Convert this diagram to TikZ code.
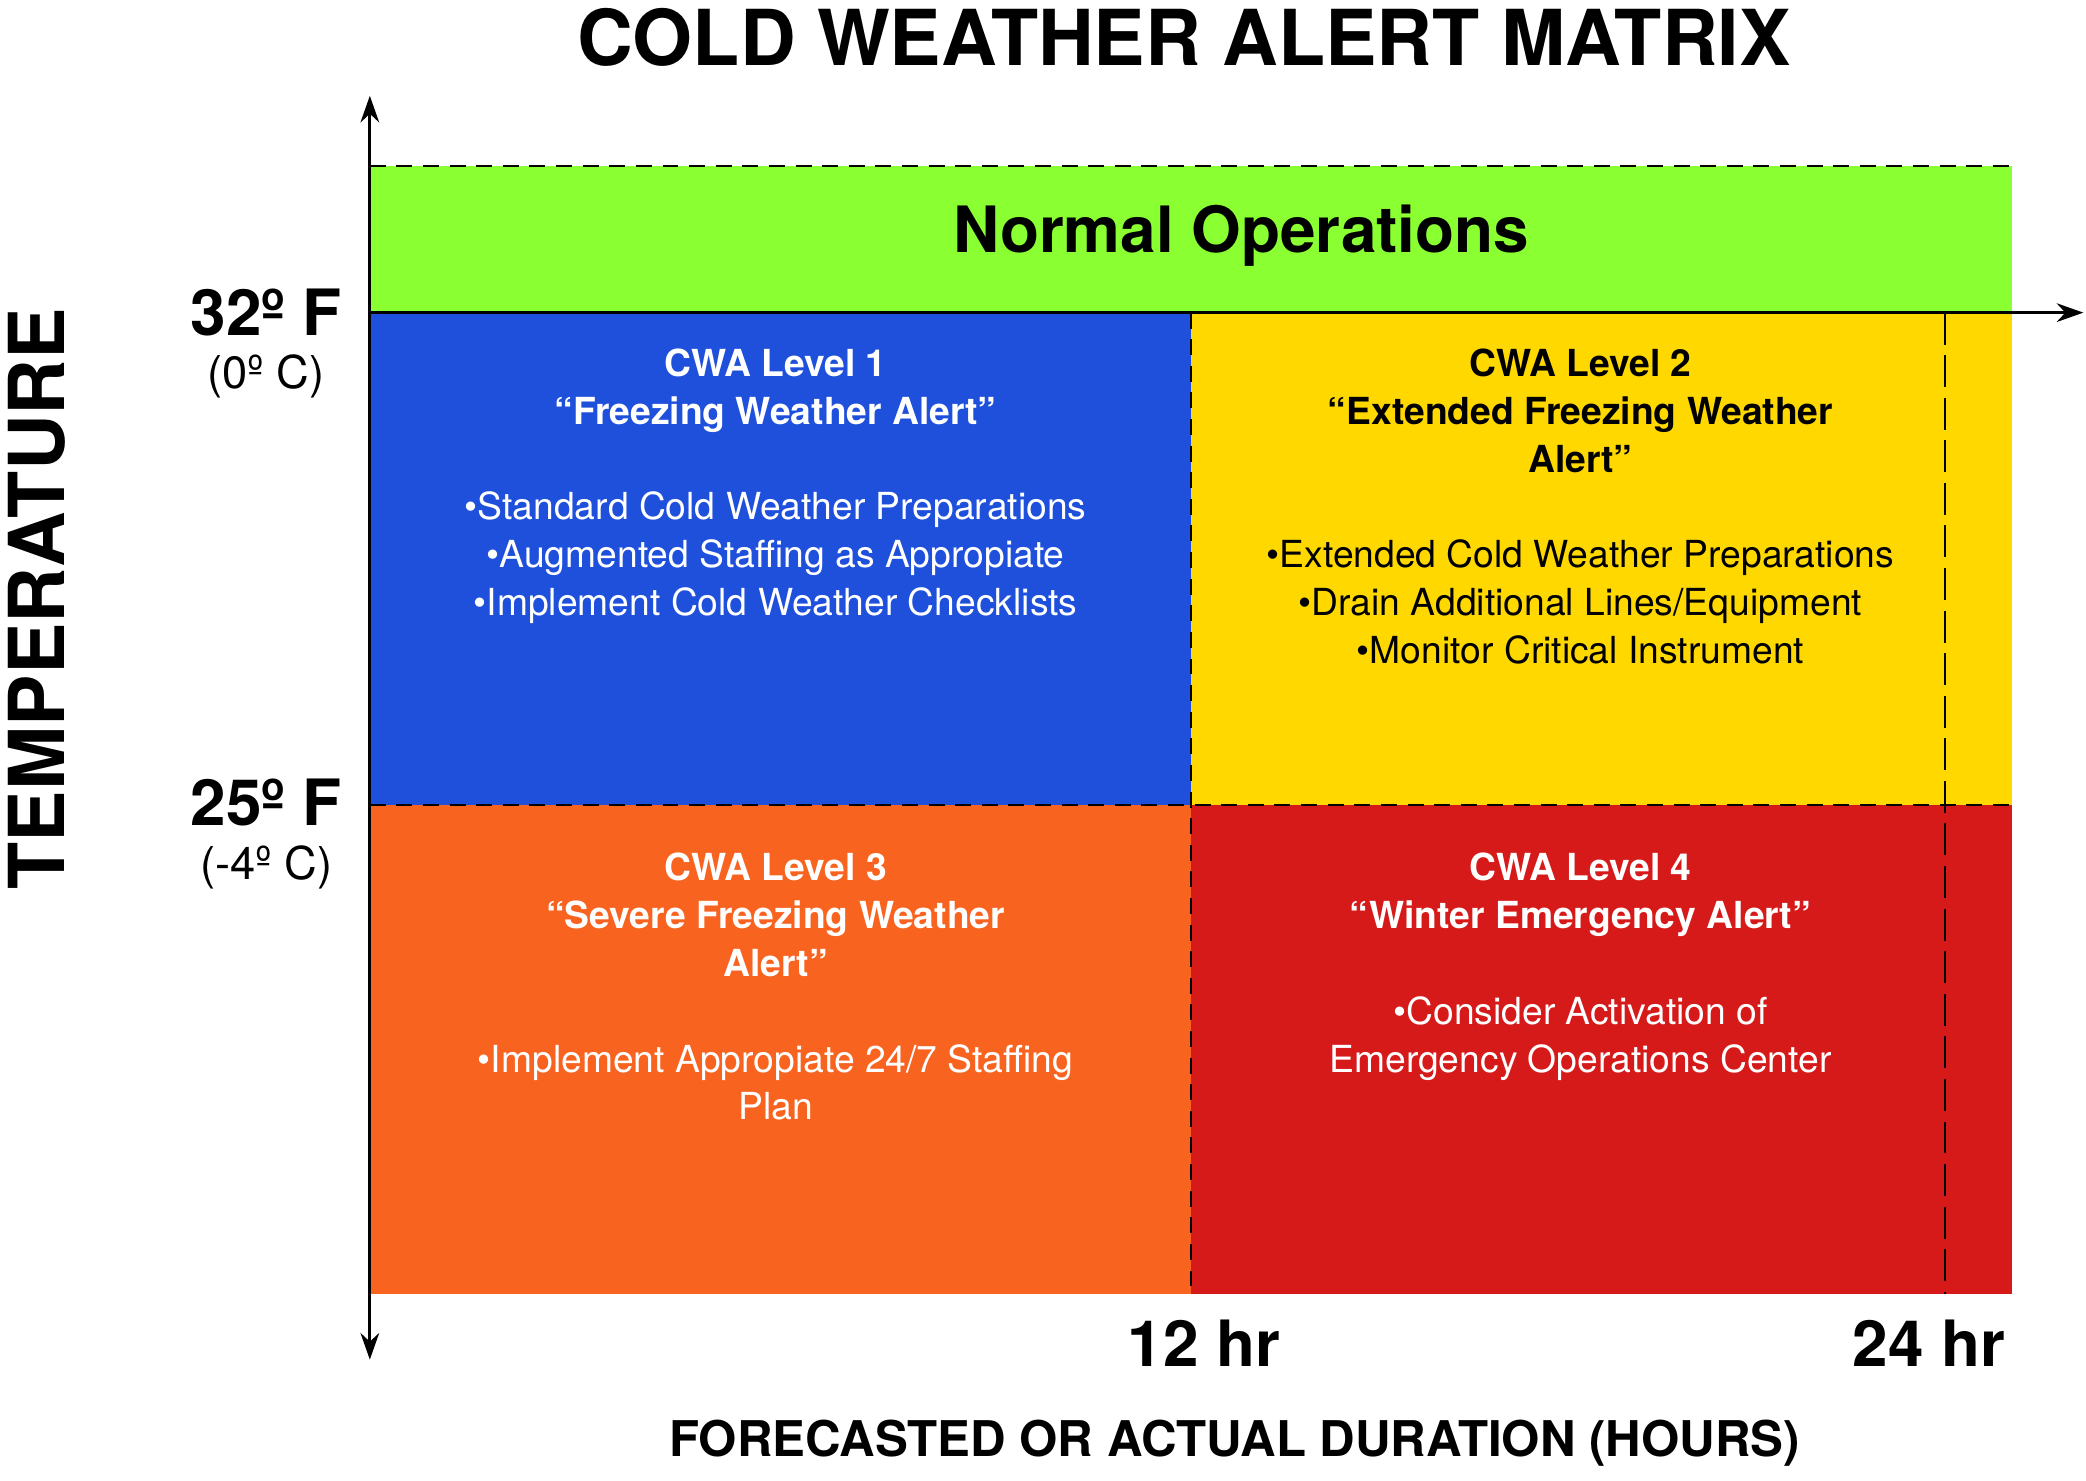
\documentclass[tikz,border=0pt]{standalone}
\usepackage{fontspec}
\setmainfont{TeX Gyre Heros}
\usetikzlibrary{arrows.meta}
\definecolor{cgreen}{RGB}{138,255,50}
\definecolor{cblue}{RGB}{30,80,220}
\definecolor{cyellow}{RGB}{255,216,0}
\definecolor{corange}{RGB}{248,100,32}
\definecolor{cred}{RGB}{214,26,26}
\begin{document}
\begin{tikzpicture}[x=0.5pt,y=-0.5pt,
  cell/.style={align=center,font=\fontsize{14}{18}\selectfont,anchor=north},
  lbl/.style={font=\fontsize{24}{28}\selectfont\bfseries},
  sub/.style={font=\fontsize{17}{20}\selectfont},
  dsh/.style={dashed,line width=0.8pt,dash pattern=on 6pt off 4pt}]
\useasboundingbox (0,0) rectangle (1568,1113);
\fill[cgreen] (278,125) rectangle (1512,235);
\fill[cblue] (278,235) rectangle (895,605);
\fill[cyellow] (895,235) rectangle (1512,605);
\fill[corange] (278,605) rectangle (895,973);
\fill[cred] (895,605) rectangle (1512,973);
\draw[dsh] (278,125) -- (1512,125);
\draw[dsh] (278,605) -- (1512,605);
\draw[dsh] (895,235) -- (895,973);
\draw[line width=0.8pt,dash pattern=on 12pt off 4pt] (1462,235) -- (1462,973);
\coordinate (top) at (278,72);
\coordinate (bot) at (278,1022);
\coordinate (right) at (1566,235);
\draw[line width=1.2pt,-{Stealth[length=10pt,width=7pt]}] (278,235) -- (top);
\draw[line width=1.2pt,-{Stealth[length=10pt,width=7pt]}] (278,235) -- (bot);
\draw[line width=1.2pt,-{Stealth[length=10pt,width=7pt]}] (278,235) -- (right);
\node (title) at (890,28) {\fontsize{29}{32}\selectfont\bfseries COLD WEATHER ALERT MATRIX};
\node (normal) at (933,177) {\fontsize{24}{28}\selectfont\bfseries Normal Operations};
\node[cell,text=white] (l1) at (583,255) {\textbf{CWA Level 1}\\\textbf{“Freezing Weather Alert”}\\[18pt]•Standard Cold Weather Preparations\\•Augmented Staffing as Appropiate\\•Implement Cold Weather Checklists};
\node[cell] (l2) at (1188,255) {\textbf{CWA Level 2}\\\textbf{“Extended Freezing Weather}\\\textbf{Alert”}\\[18pt]•Extended Cold Weather Preparations\\•Drain Additional Lines/Equipment\\•Monitor Critical Instrument};
\node[cell,text=white] (l3) at (583,634) {\textbf{CWA Level 3}\\\textbf{“Severe Freezing Weather}\\\textbf{Alert”}\\[18pt]•Implement Appropiate 24/7 Staffing\\Plan};
\node[cell,text=white] (l4) at (1188,634) {\textbf{CWA Level 4}\\\textbf{“Winter Emergency Alert”}\\[18pt]•Consider Activation of\\Emergency Operations Center};
\node[lbl] (t32) at (200,235) {32º F};
\node[sub] (c0) at (200,283) {(0º C)};
\node[lbl] (t25) at (200,603) {25º F};
\node[sub] (c4) at (200,652) {(-4º C)};
\node[rotate=90,font=\fontsize{29}{32}\selectfont\bfseries] (temp) at (28,450) {TEMPERATURE};
\node[lbl] (h12) at (905,1010) {12 hr};
\node[lbl] (h24) at (1450,1010) {24 hr};
\node[font=\fontsize{18.5}{22}\selectfont\bfseries] (xl) at (928,1085) {FORECASTED OR ACTUAL DURATION (HOURS)};
\end{tikzpicture}
\end{document}
